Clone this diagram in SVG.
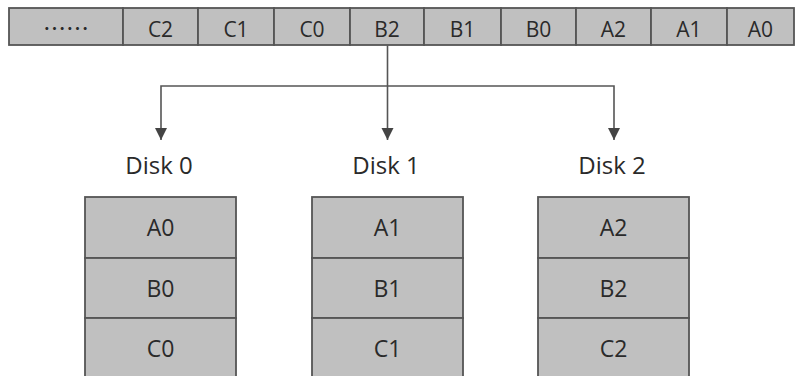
<svg xmlns="http://www.w3.org/2000/svg" width="796" height="376" viewBox="0 0 796 376">
<style>
.cell{fill:#c0c0c0;stroke:#555;stroke-width:1.8}
.t{font-family:"Open Sans","Noto Sans",sans-serif;font-size:21px;fill:#2a2a2a;text-anchor:middle}
.b{font-family:"Open Sans","Noto Sans",sans-serif;font-size:23px;fill:#2a2a2a;text-anchor:middle}
.lbl{font-family:"Open Sans","Noto Sans",sans-serif;font-size:24px;fill:#2a2a2a;text-anchor:middle}
.con{fill:none;stroke:#555;stroke-width:1.6}
</style>
<defs>
<marker id="ah" markerUnits="userSpaceOnUse" markerWidth="14" markerHeight="14" viewBox="0 0 14 14" refX="12" refY="7" orient="auto-start-reverse">
<path d="M0,1 L12,7 L0,13 Z" fill="#444"/>
</marker>
</defs>
<rect x="0" y="0" width="796" height="376" fill="#fff"/>
<g id="stream">
<g id="cell-dots"><rect class="cell" x="9" y="8" width="114" height="37"/><text class="t" x="66" y="37" style="font-family:'Noto Sans CJK SC',sans-serif;font-size:23px" lang="zh">……</text></g>
<g id="cell-C2"><rect class="cell" x="123" y="8" width="75" height="37"/><text class="t" x="160.5" y="37">C2</text></g>
<g id="cell-C1"><rect class="cell" x="198" y="8" width="76" height="37"/><text class="t" x="236" y="37">C1</text></g>
<g id="cell-C0"><rect class="cell" x="274" y="8" width="76" height="37"/><text class="t" x="312" y="37">C0</text></g>
<g id="cell-B2"><rect class="cell" x="350" y="8" width="74" height="37"/><text class="t" x="387" y="37">B2</text></g>
<g id="cell-B1"><rect class="cell" x="424" y="8" width="77" height="37"/><text class="t" x="462.5" y="37">B1</text></g>
<g id="cell-B0"><rect class="cell" x="501" y="8" width="75" height="37"/><text class="t" x="538.5" y="37">B0</text></g>
<g id="cell-A2"><rect class="cell" x="576" y="8" width="75" height="37"/><text class="t" x="613.5" y="37">A2</text></g>
<g id="cell-A1"><rect class="cell" x="651" y="8" width="76" height="37"/><text class="t" x="689" y="37">A1</text></g>
<g id="cell-A0"><rect class="cell" x="727" y="8" width="67" height="37"/><text class="t" x="760.5" y="37">A0</text></g>
</g>
<g id="connectors">
<path class="con" d="M387.5,45.5 V140" marker-end="url(#ah)"/>
<path class="con" d="M161,140 V86 H614 V140" marker-start="url(#ah)" marker-end="url(#ah)"/>
</g>
<g id="disk0">
<text class="lbl" x="159" y="174">Disk 0</text>
<rect class="cell" x="85" y="197" width="151" height="61"/><text class="b" x="160.5" y="236">A0</text>
<rect class="cell" x="85" y="258" width="151" height="60"/><text class="b" x="160.5" y="296.5">B0</text>
<rect class="cell" x="85" y="318" width="151" height="62"/><text class="b" x="160.5" y="356.5">C0</text>
</g>
<g id="disk1">
<text class="lbl" x="386" y="174">Disk 1</text>
<rect class="cell" x="312" y="197" width="151" height="61"/><text class="b" x="387.5" y="236">A1</text>
<rect class="cell" x="312" y="258" width="151" height="60"/><text class="b" x="387.5" y="296.5">B1</text>
<rect class="cell" x="312" y="318" width="151" height="62"/><text class="b" x="387.5" y="356.5">C1</text>
</g>
<g id="disk2">
<text class="lbl" x="612" y="174">Disk 2</text>
<rect class="cell" x="538" y="197" width="151" height="61"/><text class="b" x="613.5" y="236">A2</text>
<rect class="cell" x="538" y="258" width="151" height="60"/><text class="b" x="613.5" y="296.5">B2</text>
<rect class="cell" x="538" y="318" width="151" height="62"/><text class="b" x="613.5" y="356.5">C2</text>
</g>
</svg>
